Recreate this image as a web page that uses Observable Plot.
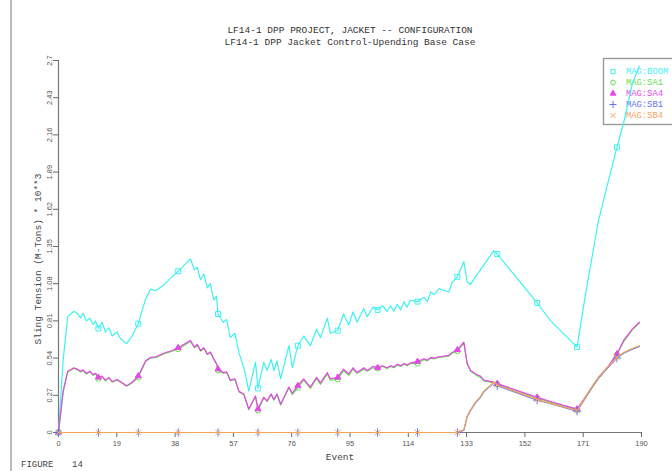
<!DOCTYPE html>
<html><head><meta charset="utf-8">
<script src="https://cdn.jsdelivr.net/npm/d3@7"></script>
<script src="https://cdn.jsdelivr.net/npm/@observablehq/plot@0.6"></script>
<style>body{margin:0;background:#fff} #chart svg{display:block}</style>
</head><body><div id="chart"></div>
<script>
const events = [
  0,1.5,3,5,6.1,7.2,8,9.1,10.2,11.3,
  12.1,13,14.2,15.3,16.4,17.5,19.1,20.2,22.2,24,
  26,28.4,30,31.8,34.3,37,39,43,44.3,45.2,
  46.3,47.4,48.5,49.5,50.6,51.5,52,53.7,54.8,56,
  57.5,58.8,60.4,61.5,62,64.2,65,66.9,68,69.3,
  70.2,71.2,72.4,75.1,76.2,78,79.9,82.1,84.1,85.4,
  87.6,88.6,91,92.9,94.6,96,97.3,99.5,100.6,102.5,
  104,105.6,107.1,108.2,109.3,110.4,111.5,112.6,113.6,114.7,
  117,119.1,120.2,121.3,122.5,124,127.2,128.3,130,132.1,
  133.2,134.3,135.9,137.5,138.6,141.9,143,156,160.4,169,
  171.8,174.5,176,178.8,182,184.2,187,189.3
];
const boom = [
  0,0.52,0.84,0.88,0.865,0.83,0.865,0.81,0.83,0.785,
  0.81,0.755,0.80,0.73,0.76,0.70,0.73,0.68,0.645,0.70,
  0.79,0.97,1.04,1.03,1.07,1.13,1.17,1.26,1.18,1.20,
  1.11,1.15,1.05,1.08,0.96,0.99,0.86,0.80,0.82,0.69,
  0.72,0.58,0.47,0.36,0.30,0.51,0.32,0.51,0.45,0.53,
  0.45,0.52,0.39,0.63,0.47,0.63,0.70,0.63,0.75,0.69,
  0.83,0.72,0.74,0.86,0.78,0.875,0.80,0.90,0.84,0.91,
  0.89,0.92,0.88,0.92,0.88,0.93,0.89,0.95,0.91,0.96,
  0.95,0.98,0.95,1.02,1.00,1.045,1.02,1.09,1.13,1.24,
  1.09,1.075,1.13,1.18,1.215,1.32,1.295,0.94,0.81,0.62,
  1.01,1.35,1.54,1.79,2.07,2.25,2.53,2.66
];
const sa1 = [
  0,0.29,0.44,0.465,0.455,0.44,0.45,0.425,0.44,0.415,
  0.425,0.39,0.405,0.375,0.395,0.365,0.38,0.365,0.335,0.36,
  0.40,0.515,0.54,0.545,0.57,0.59,0.605,0.66,0.615,0.635,
  0.59,0.61,0.565,0.58,0.53,0.495,0.45,0.43,0.435,0.375,
  0.385,0.295,0.275,0.20,0.165,0.26,0.16,0.25,0.225,0.275,
  0.235,0.275,0.20,0.325,0.275,0.325,0.38,0.32,0.39,0.35,
  0.425,0.38,0.385,0.45,0.415,0.46,0.43,0.46,0.445,0.47,
  0.465,0.48,0.465,0.48,0.47,0.49,0.48,0.495,0.485,0.50,
  0.50,0.53,0.52,0.54,0.535,0.545,0.555,0.575,0.59,0.65,
  0.495,0.445,0.42,0.40,0.375,0.36,0.35,0.25,0.22,0.165,
  0.255,0.345,0.395,0.465,0.565,0.66,0.745,0.795
];
const sa4 = [
  0,0.30,0.445,0.47,0.46,0.445,0.455,0.43,0.445,0.42,
  0.43,0.40,0.41,0.38,0.40,0.37,0.385,0.37,0.34,0.365,
  0.41,0.52,0.545,0.55,0.575,0.595,0.615,0.668,0.62,0.64,
  0.595,0.615,0.57,0.585,0.535,0.50,0.46,0.435,0.44,0.38,
  0.39,0.30,0.28,0.205,0.17,0.265,0.17,0.255,0.23,0.28,
  0.24,0.28,0.205,0.33,0.285,0.34,0.39,0.33,0.40,0.36,
  0.435,0.39,0.40,0.46,0.425,0.47,0.435,0.47,0.45,0.48,
  0.47,0.485,0.47,0.485,0.475,0.495,0.485,0.50,0.49,0.505,
  0.515,0.535,0.525,0.545,0.54,0.55,0.56,0.58,0.60,0.655,
  0.50,0.45,0.425,0.41,0.38,0.365,0.355,0.255,0.225,0.17,
  0.26,0.35,0.40,0.47,0.57,0.67,0.75,0.80
];
const sb1 = [
  0,0,0,0,0,0,0,0,0,0,
  0,0,0,0,0,0,0,0,0,0,
  0,0,0,0,0,0,0,0,0,0,
  0,0,0,0,0,0,0,0,0,0,
  0,0,0,0,0,0,0,0,0,0,
  0,0,0,0,0,0,0,0,0,0,
  0,0,0,0,0,0,0,0,0,0,
  0,0,0,0,0,0,0,0,0,0,
  0,0,0,0,0,0,0,0,0,0.015,
  0.115,0.16,0.215,0.255,0.295,0.36,0.34,0.235,0.21,0.155,
  0.255,0.35,0.395,0.465,0.54,0.575,0.605,0.625
];
const sb4 = [
  0,0,0,0,0,0,0,0,0,0,
  0,0,0,0,0,0,0,0,0,0,
  0,0,0,0,0,0,0,0,0,0,
  0,0,0,0,0,0,0,0,0,0,
  0,0,0,0,0,0,0,0,0,0,
  0,0,0,0,0,0,0,0,0,0,
  0,0,0,0,0,0,0,0,0,0,
  0,0,0,0,0,0,0,0,0,0,
  0,0,0,0,0,0,0,0,0,0.02,
  0.12,0.165,0.22,0.26,0.30,0.365,0.345,0.24,0.21,0.16,
  0.26,0.355,0.40,0.47,0.545,0.58,0.61,0.63
];
const seriesNames = ["MAG:BOOM","MAG:SA1","MAG:SA4","MAG:SB1","MAG:SB4"];
const seriesColors = ["#3ff2f2","#66e052","#e846e8","#5f74f0","#f4a55a"];
const seriesSymbols = ["square","circle","triangle","plus","times"];
const seriesMarkerR = [2.8, 2.6, 2.2, 2.8, 2.6];
const markerEvents = [0,13,26,39,52,65,78,91,104,117,130,143,156,169,182];
const xTicks = [0,19,38,57,76,95,114,133,152,171,190];
const yTicks = [0,0.27,0.54,0.81,1.08,1.35,1.62,1.89,2.16,2.43,2.7];
const yTickLabels = ["0","0.27","0.54","0.81","1.08","1.35","1.62","1.89","2.16","2.43","2.7"];
const titleLines = ["LF14-1 DPP PROJECT, JACKET -- CONFIGURATION","LF14-1 DPP Jacket Control-Upending Base Case"];
const yTitle = "Sling Tension (M-Tons) * 10**3";
const xTitle = "Event";
const figureLabel = ["FIGURE", "14"];

const valuesBySeries = [boom, sa1, sa4, sb1, sb4];
const rows = seriesNames.map((name, i) => events.map((e, j) => ({event: e, value: valuesBySeries[i][j], series: name})));

const marks = [
  Plot.ruleY([0], {stroke: "#777", strokeWidth: 1.2}),
  Plot.ruleX([0], {stroke: "#777", strokeWidth: 1.2}),
  Plot.axisX({ticks: xTicks, tickSize: 5, tickPadding: 3, fontSize: 7.5, stroke: "#666", fill: "#555", label: null}),
  Plot.axisY({ticks: yTicks, tickSize: 5, tickFormat: () => "", label: null, stroke: "#666"}),
  Plot.text(yTicks, {x: 0, y: d => d, text: (d, i) => yTickLabels[i], rotate: -90, dx: -9, fontSize: 7.5, fill: "#555"})
];
rows.forEach((data, i) => {
  marks.push(Plot.line(data, {x: "event", y: "value", stroke: seriesColors[i], strokeWidth: 1.2}));
  const m = data.filter(d => markerEvents.includes(d.event));
  const filled = seriesSymbols[i] === "triangle";
  marks.push(Plot.dot(m, {x: "event", y: "value", symbol: seriesSymbols[i], r: seriesMarkerR[i],
    stroke: seriesColors[i], fill: filled ? seriesColors[i] : "none", strokeWidth: 1}));
});

const svg = Plot.plot({
  width: 672, height: 471,
  marginLeft: 58, marginRight: 31, marginTop: 60, marginBottom: 39,
  x: {domain: [0, 190]},
  y: {domain: [0, 2.7]},
  style: {fontFamily: "Liberation Sans", background: "#fff"},
  marks
});
document.getElementById("chart").appendChild(svg);

const s = d3.select(svg);
const mono = "Liberation Mono";
// left page border
s.append("line").attr("x1", 11).attr("x2", 11).attr("y1", 0).attr("y2", 471)
  .attr("stroke", "#aaa").attr("stroke-width", 1.6);
// titles
titleLines.forEach((t, i) => {
  s.append("text").attr("x", 350).attr("y", 33 + i * 12).attr("text-anchor", "middle")
    .attr("font-family", mono).attr("font-size", 9.5).attr("fill", "#333").text(t);
});
// y title
s.append("text").attr("transform", "translate(38,259) rotate(-90)").attr("text-anchor", "middle")
  .attr("dominant-baseline", "central").attr("font-family", mono).attr("font-size", 9.5)
  .attr("fill", "#444").text(yTitle);
// x title
s.append("text").attr("x", 340).attr("y", 460).attr("text-anchor", "middle")
  .attr("font-family", mono).attr("font-size", 9.5).attr("fill", "#444").text(xTitle);
// figure label
s.append("text").attr("x", 21).attr("y", 467).attr("text-anchor", "start").attr("font-family", mono).attr("font-size", 9)
  .attr("fill", "#444").text(figureLabel[0]);
s.append("text").attr("x", 72).attr("y", 467).attr("text-anchor", "start").attr("font-family", mono).attr("font-size", 9)
  .attr("fill", "#444").text(figureLabel[1]);
// legend (below the marks)
const lg = s.insert("g", "g");
lg.append("rect").attr("x", 603.5).attr("y", 58.5).attr("width", 90).attr("height", 66)
  .attr("fill", "none").attr("stroke", "#999").attr("stroke-width", 1.4);
const symTypes = {square: d3.symbolSquare, circle: d3.symbolCircle, triangle: d3.symbolTriangle, plus: d3.symbolPlus, times: d3.symbolTimes};
seriesNames.forEach((name, i) => {
  const y = 71.5 + i * 11;
  const filled = seriesSymbols[i] === "triangle";
  lg.append("path").attr("d", d3.symbol(symTypes[seriesSymbols[i]], filled ? 14 : 18)())
    .attr("transform", `translate(613,${y})`)
    .attr("fill", filled ? seriesColors[i] : "none").attr("stroke", seriesColors[i]).attr("stroke-width", 1);
  lg.append("text").attr("x", 626).attr("y", y).attr("text-anchor", "start").attr("dominant-baseline", "central")
    .attr("font-family", mono).attr("font-size", 8.8).attr("fill", seriesColors[i]).text(name);
});
</script>
</body></html>
